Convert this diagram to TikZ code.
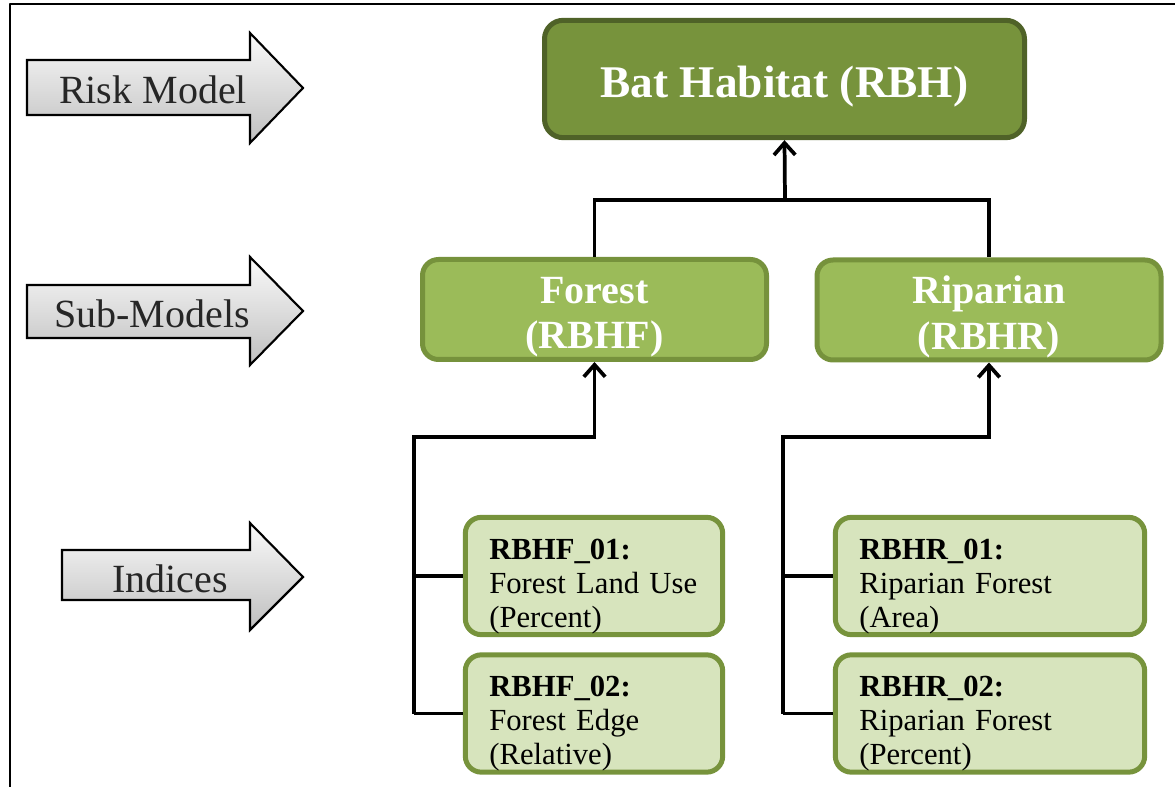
\documentclass[tikz,border=0pt]{standalone}
\usepackage{fontspec}
\setmainfont{Liberation Serif}
\usetikzlibrary{arrows.meta}
\definecolor{oliveD}{HTML}{77933C}
\definecolor{oliveE}{HTML}{4F6228}
\definecolor{oliveM}{HTML}{76923C}
\definecolor{oliveL}{HTML}{9BBB59}
\definecolor{oliveP}{HTML}{D7E4BD}
\begin{document}
\begin{tikzpicture}[x=0.75pt, y=-0.75pt, line join=round, >={Straight Barb[length=9pt,width=16pt]}]
	\useasboundingbox (0,0) rectangle (1175,787);
	\tikzset{
		riskbox/.style={draw=oliveE, fill=oliveD, line width=3.75pt, rounded corners=14pt, minimum width=360pt, minimum height=88pt, text height=30pt, text depth=2pt, text=white, font=\bfseries\fontsize{34}{40}\selectfont},
		subbox/.style={draw=oliveM, fill=oliveL, line width=3.75pt, rounded corners=12pt, minimum width=258pt, minimum height=75pt, inner ysep=0pt, text=white, align=center, font=\bfseries\fontsize{30}{34}\selectfont},
		idxbox/.style={draw=oliveD, fill=oliveP, line width=3.75pt, rounded corners=12pt, minimum height=88pt, inner xsep=18pt, inner ysep=0pt, align=left, font=\fontsize{23}{25.5}\selectfont},
		tagarrow/.style={draw=black, line width=1.6pt, line join=miter, top color=gray!4, bottom color=gray!50},
		taglabel/.style={text=black!85, font=\fontsize{30}{36}\selectfont},
		link/.style={line width=2.8pt, line join=miter}
	}
	% frame
	\draw[line width=2.2pt] (10,787)--(10,4)--(1175,4);
	% level arrows
	\path[tagarrow] (27,60)--(250,60)--(250,33)--(303,88)--(250,143)--(250,115)--(27,115)--cycle;
	\path[tagarrow] (27,285)--(250,285)--(250,257)--(303,311)--(250,365)--(250,338)--(27,338)--cycle;
	\path[tagarrow] (62,550)--(250,550)--(250,523)--(303,577)--(250,630)--(250,600)--(62,600)--cycle;
	\node[taglabel] (lvlrisk) at (153,90) {Risk Model};
	\node[taglabel] (lvlsub) at (152,314) {Sub-Models};
	\node[taglabel] (lvlidx) at (170,579) {Indices};
	% boxes
	\node[riskbox] (rbh) at (784.5,79) {Bat Habitat (RBH)};
	\node[subbox] (rbhf) at (594.5,309.5) {\rule{0pt}{31pt}Forest\\(RBHF)};
	\node[subbox] (rbhr) at (989,310) {\rule{0pt}{31pt}Riparian\\(RBHR)};
	\node[idxbox, text width=157pt] (rbhf1) at (594,576) {\rule{0pt}{31pt}\textbf{RBHF\_01:}\\Forest Land Use\\(Percent)};
	\node[idxbox, text width=157pt] (rbhf2) at (594,713.5) {\rule{0pt}{31pt}\textbf{RBHF\_02:}\\Forest Edge\\(Relative)};
	\node[idxbox, text width=196pt] (rbhr1) at (990,576) {\rule{0pt}{31pt}\textbf{RBHR\_01:}\\Riparian Forest\\(Area)};
	\node[idxbox, text width=196pt] (rbhr2) at (990,713.5) {\rule{0pt}{31pt}\textbf{RBHR\_02:}\\Riparian Forest\\(Percent)};
	% connectors
	\coordinate (hub) at (785,200);
	\coordinate (fjoin) at (594.5,437);
	\coordinate (fbot) at (414,713.5);
	\coordinate (rjoin) at (989,437);
	\coordinate (rbot) at (783,713.5);
	\draw[link] (rbhf.north) |- (hub) -| (rbhr.north);
	\draw[link,->] (hub) -- (rbh.south);
	\draw[link,->] (fbot) |- (fjoin) -- (rbhf.south);
	\draw[link] (rbhf1.west) -- (rbhf1.west -| fbot);
	\draw[link] (rbhf2.west) -- (fbot);
	\draw[link,->] (rbot) |- (rjoin) -- (rbhr.south);
	\draw[link] (rbhr1.west) -- (rbhr1.west -| rbot);
	\draw[link] (rbhr2.west) -- (rbot);
\end{tikzpicture}
\end{document}
